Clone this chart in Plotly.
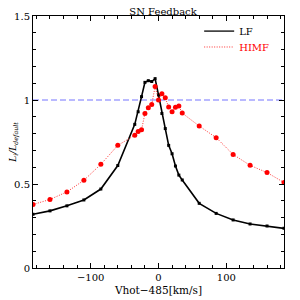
import plotly.graph_objects as go

# LF (black solid)
lf_x = [-185, -160, -135, -110, -85, -60, -35, -30, -25, -20, -15, -10, -5, 0,
        5, 10, 15, 20, 25, 30, 35, 60, 85, 110, 135, 160, 185]
lf_y = [0.32, 0.34, 0.37, 0.405, 0.47, 0.61, 0.855, 0.93, 1.02, 1.105, 1.115, 1.11, 1.127, 1.03,
        0.92, 0.83, 0.73, 0.68, 0.607, 0.553, 0.524, 0.385, 0.325, 0.286, 0.262, 0.25, 0.236]

# HIMF (red dotted)
himf_x = [-185, -160, -135, -110, -85, -60, -35, -30, -25, -20, -15, -10, -5, 0,
          5, 10, 15, 20, 25, 30, 35, 60, 85, 110, 135, 160, 185]
himf_y = [0.378, 0.408, 0.453, 0.522, 0.617, 0.73, 0.79, 0.813, 0.823, 0.92, 0.954, 0.973, 1.08, 1.0,
          1.037, 1.013, 0.958, 0.93, 0.957, 0.964, 0.922, 0.845, 0.776, 0.676, 0.611, 0.568, 0.509]

reference_level = 1.0
x_range = [-185, 185]
y_range = [0, 1.5]

FONT = "DejaVu Serif"

fig = go.Figure()
fig.add_trace(go.Scatter(
    x=lf_x, y=lf_y, mode="lines+markers", showlegend=False,
    line=dict(color="black", width=1.6),
    marker=dict(symbol="square", size=3, color="black"),
))
fig.add_trace(go.Scatter(
    x=himf_x, y=himf_y, mode="lines+markers", showlegend=False,
    line=dict(color="#ff3030", width=1, dash="1px,1.5px"),
    marker=dict(symbol="circle", size=5, color="#ff0000"),
))
# legend-only entries (line samples without markers)
fig.add_trace(go.Scatter(x=[None], y=[None], mode="lines", name="LF", legend="legend",
                         line=dict(color="#444444", width=1.6)))
fig.add_trace(go.Scatter(x=[None], y=[None], mode="lines", name="HIMF", legend="legend2",
                         line=dict(color="#ff3030", width=1, dash="1px,1.5px")))
fig.add_hline(y=reference_level, line=dict(color="#7575ff", width=1, dash="6px,3px"), layer="below")

axis_common = dict(
    showline=True, linecolor="black", linewidth=1, mirror="allticks",
    ticks="inside", ticklen=5, tickcolor="black", tickwidth=1,
    showgrid=False, zeroline=False, automargin=False,
    tickfont=dict(family=FONT, size=10, color="black"),
)

fig.update_xaxes(
    range=x_range, dtick=100, tick0=0,
    minor=dict(dtick=20, ticks="inside", ticklen=3, tickcolor="black", showgrid=False),
    title=dict(text="Vhot−485[km/s]", font=dict(family=FONT, size=10.5, color="black"), standoff=4),
    **axis_common,
)
fig.update_yaxes(
    range=y_range, dtick=0.5, tick0=0,
    minor=dict(dtick=0.1, ticks="inside", ticklen=3, tickcolor="black", showgrid=False),
    title=dict(text="<i>L<sub>i</sub>/L<sub>default</sub></i>",
               font=dict(family=FONT, size=9, color="black"), standoff=5),
    **axis_common,
)

legend_common = dict(xanchor="left", yanchor="middle", bgcolor="rgba(0,0,0,0)",
                     borderwidth=0)
fig.update_layout(
    width=292, height=292,
    margin=dict(l=25, r=16, t=8, b=32),
    paper_bgcolor="white", plot_bgcolor="white",
    title=dict(text="SN Feedback", x=0.531, xanchor="center", xref="container",
               y=1.0, yanchor="top", yref="container", pad=dict(t=0, b=0),
               font=dict(family=FONT, size=10, color="black")),
    showlegend=True,
    legend=dict(x=0.662, y=0.940, font=dict(family=FONT, size=10, color="black"),
                **legend_common),
    legend2=dict(x=0.662, y=0.877, font=dict(family=FONT, size=10, color="#ff0000"),
                 **legend_common),
)

fig.write_html("out.html")
